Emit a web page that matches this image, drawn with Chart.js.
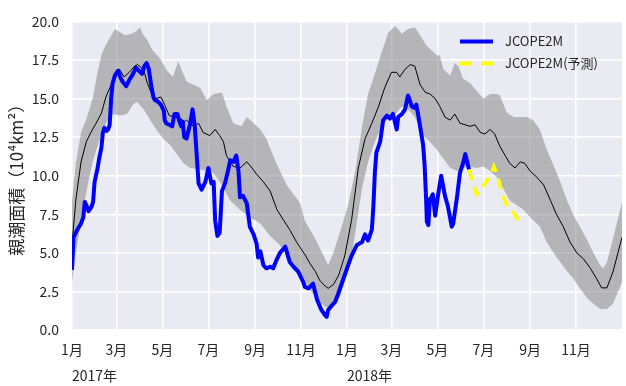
<!DOCTYPE html>
<html>
<head>
<meta charset="utf-8">
<script src="https://cdn.jsdelivr.net/npm/chart.js@4.4.1/dist/chart.umd.min.js"></script>
<style>
  html, body { margin: 0; padding: 0; background: #fff; }
</style>
</head>
<body>
<canvas id="chart" width="626" height="386"></canvas>
<script>
// x values are days since 2017-01-01
const tickDates = ['2017-01-01', '2017-03-01', '2017-05-01', '2017-07-01', '2017-09-01', '2017-11-01',
                   '2018-01-01', '2018-03-01', '2018-05-01', '2018-07-01', '2018-09-01', '2018-11-01'];
const tickLabels = ['1月', '3月', '5月', '7月', '9月', '11月', '1月', '3月', '5月', '7月', '9月', '11月'];
const yearDates = ['2017-01-01', '2018-01-01'];
const yearLabels = ['2017年', '2018年'];

// JCOPE2M analysis
const obsDays = [0, 2, 7, 12, 15, 17, 19, 22, 26, 28, 30, 34, 36, 39, 41, 43, 46, 48, 50, 52, 54, 57, 61, 64, 67,
  72, 76, 81, 85, 89, 93, 96, 99, 102, 105, 108, 110, 114, 118, 122, 123, 125, 129, 133, 136, 140, 142, 145, 147,
  149, 152, 157, 160, 163, 168, 172, 177, 181, 185, 188, 190, 193, 196, 199, 203, 207, 210, 214, 218, 221, 223,
  227, 232, 236, 241, 245, 247, 250, 254, 258, 263, 267, 272, 276, 283, 289, 294, 300, 307, 309, 314, 320, 325,
  331, 336, 338, 340, 345, 349, 353, 358, 365, 371, 378, 385, 389, 393, 398, 400, 402, 404, 409, 413, 418, 422,
  426, 431, 433, 438, 442, 446, 451, 454, 457, 460, 462, 464, 466, 468, 470, 471, 473, 475, 479, 482, 486, 490,
  495, 499, 504, 506, 511, 515, 519, 522, 526, 527];
const obsValues = [3.9, 6.0, 6.5, 6.9, 7.3, 8.3, 8.1, 7.7, 8.0, 8.3, 9.6, 10.5, 11.1, 11.8, 12.8, 13.1, 12.9, 13.0,
  13.3, 15.0, 16.0, 16.5, 16.8, 16.4, 16.1, 15.8, 16.2, 16.6, 17.0, 16.8, 16.6, 17.1, 17.3, 16.9, 15.9, 15.1, 14.9,
  14.8, 14.6, 14.2, 13.6, 13.4, 13.3, 13.2, 14.0, 14.0, 13.6, 13.2, 13.5, 12.5, 12.4, 13.4, 14.3, 13.2, 9.5, 9.1,
  9.6, 10.5, 9.5, 9.6, 7.1, 6.1, 6.3, 9.0, 9.5, 10.3, 11.0, 10.9, 11.3, 10.3, 8.6, 8.7, 8.2, 6.7, 6.2, 5.6, 4.7,
  5.1, 4.2, 4.0, 4.1, 4.0, 4.6, 5.0, 5.4, 4.4, 4.1, 3.8, 3.1, 2.8, 2.7, 3.0, 2.0, 1.3, 0.95, 0.85, 1.3, 1.6, 1.8,
  2.3, 3.0, 4.0, 4.8, 5.5, 5.7, 6.2, 5.8, 6.5, 8.0, 10.2, 11.5, 12.2, 13.6, 13.9, 13.7, 14.0, 13.0, 13.8, 14.0,
  14.3, 15.2, 14.5, 14.4, 14.6, 13.8, 13.2, 12.6, 12.0, 10.7, 8.5, 7.0, 6.8, 8.4, 8.8, 7.4, 8.8, 10.0, 8.7, 8.0,
  6.7, 6.9, 8.6, 10.2, 10.8, 11.4, 10.6, 10.4];

// JCOPE2M forecast
const fcstDays = [527, 531, 537, 541, 545, 549, 553, 555, 560, 565, 570, 576, 583, 590, 596];
const fcstValues = [10.4, 9.7, 8.8, 9.0, 9.2, 9.6, 9.8, 10.0, 10.6, 10.0, 9.0, 8.2, 7.8, 7.3, 6.9];

// climatological mean (thin black line)
const meanDays = [0, 5, 12, 19, 25, 32, 39, 45, 52, 58, 63, 69, 76, 83, 87, 92, 96, 100, 105, 111, 118, 123, 129,
  136, 142, 149, 152, 161, 168, 174, 183, 190, 196, 201, 205, 214, 223, 232, 239, 245, 254, 263, 272, 281, 289,
  298, 309, 316, 323, 329, 336, 340, 347, 354, 362, 371, 380, 389, 398, 407, 415, 424, 431, 435, 442, 449, 455,
  462, 469, 475, 482, 488, 495, 502, 508, 515, 522, 528, 535, 542, 548, 555, 561, 568, 575, 581, 588, 595, 601,
  608, 617, 626, 635, 643, 652, 661, 670, 679, 688, 696, 703, 710, 718, 727, 730];
const meanValues = [5.5, 8.4, 10.9, 12.2, 12.8, 13.4, 14.05, 15.1, 15.9, 16.7, 16.9, 16.4, 16.7, 17.1, 17.2, 17.0,
  16.7, 16.0, 15.4, 15.0, 15.1, 14.6, 13.9, 13.8, 13.8, 13.5, 13.6, 13.2, 13.4, 12.8, 12.6, 13.0, 12.6, 12.2, 11.3,
  10.6, 10.5, 10.9, 10.5, 10.1, 9.6, 9.0, 7.8, 7.1, 6.5, 5.7, 4.9, 4.3, 3.8, 3.2, 2.85, 2.7, 2.94, 3.56, 4.8, 7.1,
  10.5, 12.4, 13.4, 14.5, 15.7, 16.7, 16.7, 16.4, 16.9, 17.2, 17.1, 15.9, 15.4, 15.3, 15.0, 14.5, 13.8, 13.6, 14.0,
  13.4, 13.3, 13.2, 13.3, 12.8, 12.7, 13.0, 12.7, 11.9, 11.3, 10.8, 10.5, 10.9, 10.8, 10.3, 9.9, 9.4, 8.4, 7.5,
  6.7, 5.7, 5.0, 4.6, 4.0, 3.35, 2.73, 2.73, 3.77, 5.45, 6.0];

// spread band, upper and lower edges
const upperDays = [0, 5, 12, 20, 28, 33, 39, 45, 50, 57, 64, 70, 79, 86, 90, 95, 100, 106, 111, 117, 126, 134,
  141, 146, 152, 161, 170, 179, 188, 199, 205, 214, 225, 232, 241, 250, 258, 267, 276, 285, 294, 303, 309, 323,
  336, 340, 347, 358, 367, 376, 385, 393, 402, 411, 420, 429, 438, 446, 455, 462, 471, 480, 484, 488, 493, 502,
  508, 513, 519, 528, 537, 546, 555, 564, 568, 577, 586, 595, 604, 612, 621, 630, 639, 648, 657, 665, 674, 683,
  692, 701, 705, 710, 718, 730];
const upperValues = [8.3, 10.8, 12.8, 13.8, 15.1, 16.5, 17.8, 18.5, 18.9, 19.5, 19.3, 19.1, 19.2, 19.4, 19.6, 19.1,
  18.8, 18.2, 17.9, 17.6, 16.8, 16.4, 17.4, 16.8, 16.1, 15.9, 15.7, 14.9, 15.3, 15.4, 14.5, 13.4, 13.2, 13.8, 13.4,
  13.0, 12.4, 11.3, 10.3, 9.4, 8.8, 8.2, 7.1, 5.9, 4.6, 4.2, 5.0, 6.7, 8.2, 10.3, 13.2, 15.3, 16.6, 18.0, 19.3,
  19.7, 19.2, 19.5, 19.6, 19.1, 18.4, 18.0, 17.8, 17.8, 16.9, 16.5, 17.3, 17.1, 16.3, 16.0, 15.5, 15.0, 15.3, 15.3,
  15.2, 14.1, 13.8, 13.8, 13.8, 13.6, 13.0, 11.7, 10.7, 9.6, 8.4, 7.5, 6.7, 5.9, 5.0, 4.2, 4.0, 4.4, 5.9, 8.3];
const lowerDays = [0, 5, 12, 20, 28, 37, 46, 55, 64, 73, 81, 86, 95, 104, 112, 121, 130, 139, 148, 157, 170, 179,
  187, 196, 210, 223, 236, 250, 263, 276, 289, 303, 316, 327, 336, 345, 353, 362, 369, 376, 385, 393, 402, 411,
  420, 429, 438, 446, 455, 466, 475, 484, 493, 502, 511, 519, 528, 537, 546, 555, 564, 572, 581, 590, 599, 608,
  621, 630, 639, 648, 657, 665, 674, 683, 692, 701, 710, 718, 730];
const lowerValues = [3.1, 5.0, 7.0, 9.2, 11.0, 12.4, 13.5, 14.0, 13.9, 14.0, 14.6, 14.8, 14.3, 13.6, 13.0, 12.4,
  12.0, 11.4, 10.8, 10.5, 10.4, 10.3, 10.2, 9.6, 8.4, 7.8, 7.3, 6.9, 6.1, 5.5, 4.6, 3.7, 2.6, 1.9, 1.5, 1.4, 1.9,
  3.1, 4.2, 6.3, 9.2, 10.9, 12.2, 13.2, 13.8, 14.0, 14.5, 14.3, 13.8, 12.6, 12.2, 11.7, 11.1, 10.5, 10.3, 10.5,
  10.6, 10.5, 10.6, 10.3, 9.9, 9.2, 8.4, 8.1, 7.8, 7.3, 6.7, 5.7, 5.0, 4.4, 3.8, 3.35, 2.7, 2.1, 1.7, 1.36, 1.36,
  1.7, 3.1];

const textColor = '#262626';
const fontFamily = '"Noto Sans CJK JP", "DejaVu Sans", sans-serif';

function toDay(s) {
  return (Date.parse(s) - Date.parse('2017-01-01')) / 86400000;
}

function points(days, values) {
  return days.map((d, i) => ({ x: d, y: values[i] }));
}

// Light plot background like seaborn
const plotBackground = {
  id: 'plotBackground',
  beforeDraw(chart) {
    const { ctx, chartArea } = chart;
    ctx.save();
    ctx.fillStyle = '#eaeaf2';
    ctx.fillRect(chartArea.left, chartArea.top, chartArea.right - chartArea.left, chartArea.bottom - chartArea.top);
    ctx.restore();
  }
};

// Legend in the upper right corner of the plot
const cornerLegend = {
  id: 'cornerLegend',
  afterDraw(chart) {
    const { ctx, chartArea } = chart;
    const items = [
      { text: 'JCOPE2M', color: '#0000ff', width: 4, dash: [] },
      { text: 'JCOPE2M(予測)', color: '#ffff00', width: 4, dash: [12, 9] }
    ];
    ctx.save();
    ctx.font = '13px ' + fontFamily;
    ctx.textBaseline = 'middle';
    items.forEach((item, i) => {
      const y = chartArea.top + 20 + i * 22;
      ctx.beginPath();
      ctx.setLineDash(item.dash);
      ctx.strokeStyle = item.color;
      ctx.lineWidth = item.width;
      ctx.lineCap = 'butt';
      ctx.moveTo(chartArea.right - 162, y);
      ctx.lineTo(chartArea.right - 129, y);
      ctx.stroke();
      ctx.setLineDash([]);
      ctx.fillStyle = textColor;
      ctx.fillText(item.text, chartArea.right - 117, y);
    });
    ctx.restore();
  }
};

const ctx = document.getElementById('chart').getContext('2d');
new Chart(ctx, {
  type: 'line',
  data: {
    datasets: [
      {
        label: 'JCOPE2M(予測)',
        data: points(fcstDays, fcstValues),
        borderColor: '#ffff00',
        borderWidth: 3.5,
        borderDash: [11, 7],
        pointRadius: 0,
        fill: false
      },
      {
        label: 'JCOPE2M',
        data: points(obsDays, obsValues),
        borderColor: '#0000ff',
        borderWidth: 4,
        borderJoinStyle: 'round',
        pointRadius: 0,
        fill: false
      },
      {
        label: 'mean',
        data: points(meanDays, meanValues),
        borderColor: '#000000',
        borderWidth: 1,
        pointRadius: 0,
        fill: false
      },
      {
        label: 'upper',
        data: points(upperDays, upperValues),
        borderWidth: 0,
        borderColor: 'rgba(0,0,0,0)',
        backgroundColor: 'rgba(128,128,128,0.5)',
        pointRadius: 0,
        fill: '+1'
      },
      {
        label: 'lower',
        data: points(lowerDays, lowerValues),
        borderWidth: 0,
        borderColor: 'rgba(0,0,0,0)',
        pointRadius: 0,
        fill: false
      }
    ]
  },
  options: {
    responsive: false,
    animation: false,
    events: [],
    layout: { padding: { top: 12, right: 4, left: 0, bottom: 0 } },
    plugins: {
      legend: { display: false },
      tooltip: { enabled: false }
    },
    scales: {
      x: {
        type: 'linear',
        min: 0,
        max: 730,
        weight: 0,
        afterBuildTicks: (scale) => { scale.ticks = tickDates.map(d => ({ value: toDay(d) })); },
        afterFit: (scale) => { scale.height = 28; },
        ticks: {
          autoSkip: false,
          maxRotation: 0,
          padding: 11,
          color: textColor,
          font: { family: fontFamily, size: 14 },
          callback: (value, index) => tickLabels[index]
        },
        grid: { color: '#ffffff', lineWidth: 1.5, drawTicks: false },
        border: { display: false }
      },
      x2: {
        type: 'linear',
        position: 'bottom',
        min: 0,
        max: 730,
        weight: 1,
        afterBuildTicks: (scale) => { scale.ticks = yearDates.map(d => ({ value: toDay(d) })); },
        afterFit: (scale) => { scale.height = 28; },
        ticks: {
          align: 'start',
          autoSkip: false,
          maxRotation: 0,
          padding: 9,
          color: textColor,
          font: { family: fontFamily, size: 14 },
          callback: (value, index) => yearLabels[index]
        },
        grid: { display: false, drawTicks: false },
        border: { display: false }
      },
      y: {
        min: 0,
        max: 20,
        afterFit: (scale) => { scale.width = 72; },
        ticks: {
          stepSize: 2.5,
          padding: 13,
          color: textColor,
          font: { family: fontFamily, size: 14 },
          callback: (v) => v.toFixed(1)
        },
        title: {
          display: true,
          text: '親潮面積（10⁴km²）',
          color: textColor,
          font: { family: fontFamily, size: 17 },
          padding: { top: 6, bottom: 0 }
        },
        grid: { color: '#ffffff', lineWidth: 1.5, drawTicks: false },
        border: { display: false }
      }
    }
  },
  plugins: [plotBackground, cornerLegend]
});
</script>
</body>
</html>
